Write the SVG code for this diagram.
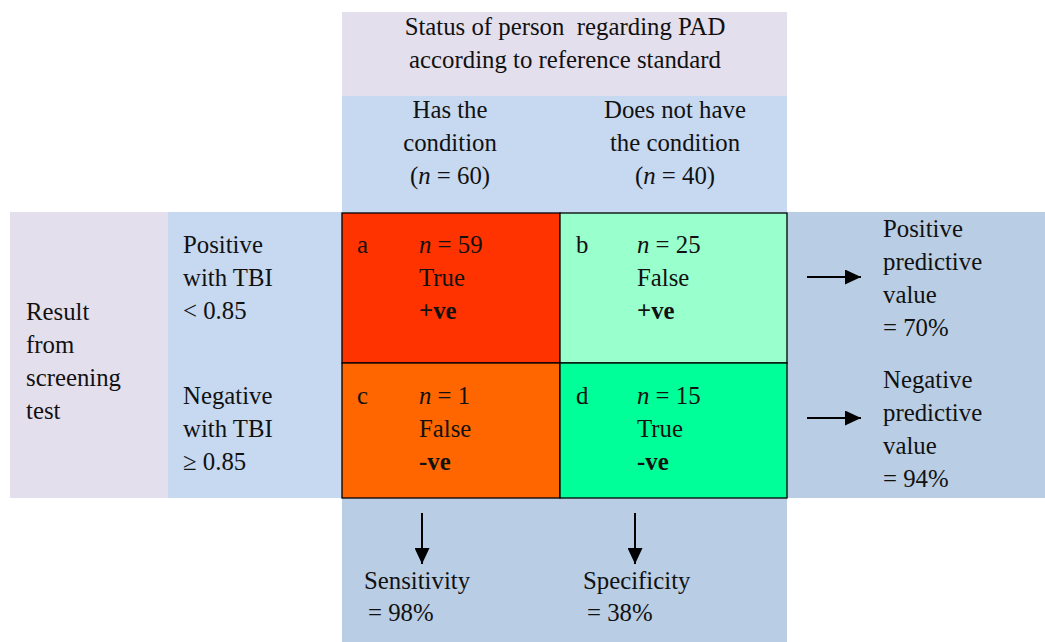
<svg xmlns="http://www.w3.org/2000/svg" width="1045" height="642" viewBox="0 0 1045 642">
<style>
text{font-family:'Liberation Serif','Times New Roman',serif;font-size:24.8px;fill:#111}
.c{text-anchor:middle}
.b{font-weight:bold}
.i{font-style:italic}
.lav{fill:#E4DFEC}
.lb{fill:#C6D9F1}
.db{fill:#B9CDE4}
.cell{stroke:#000;stroke-width:1.3}
.arr{stroke:#000;stroke-width:2;fill:none;marker-end:url(#ah)}
</style>
<defs>
<marker id="ah" viewBox="0 0 16 15" refX="16" refY="7.5" markerWidth="16" markerHeight="15" markerUnits="userSpaceOnUse" orient="auto"><path d="M0,0 L16,7.5 L0,15 Z" fill="#000"/></marker>
</defs>
<rect width="1045" height="642" fill="#fff"/>
<g id="header">
<rect class="lav" x="342" y="12" width="445" height="84"/>
<text class="c" x="565" y="35" xml:space="preserve">Status of person  regarding PAD</text>
<text class="c" x="565" y="68">according to reference standard</text>
</g>
<g id="col-has">
<rect class="lb" x="342" y="96" width="218" height="117"/>
<text class="c" x="450" y="118">Has the</text>
<text class="c" x="450" y="151">condition</text>
<text class="c" x="450" y="184">(<tspan class="i">n</tspan> = 60)</text>
</g>
<g id="col-not">
<rect class="lb" x="560" y="96" width="227" height="117"/>
<text class="c" x="675" y="118">Does not have</text>
<text class="c" x="675" y="151">the condition</text>
<text class="c" x="675" y="184">(<tspan class="i">n</tspan> = 40)</text>
</g>
<g id="row-title">
<rect class="lav" x="10" y="212" width="158" height="286"/>
<text x="26" y="320">Result</text>
<text x="26" y="353">from</text>
<text x="26" y="386">screening</text>
<text x="26" y="419">test</text>
</g>
<g id="row-pos">
<rect class="lb" x="168" y="212" width="174" height="151"/>
<text x="183" y="253">Positive</text>
<text x="183" y="286">with TBI</text>
<text x="183" y="319">&lt; 0.85</text>
</g>
<g id="row-neg">
<rect class="lb" x="168" y="363" width="174" height="135"/>
<text x="183" y="404">Negative</text>
<text x="183" y="437">with TBI</text>
<text x="183" y="470">≥ 0.85</text>
</g>
<g id="right-panel">
<rect class="db" x="787" y="212" width="258" height="286"/>
</g>
<g id="bottom-panel">
<rect class="db" x="342" y="498" width="445" height="144"/>
</g>
<g id="cell-a">
<rect class="cell" x="342" y="213" width="218" height="150" fill="#FF3300"/>
<text x="357" y="253">a</text>
<text x="419" y="253"><tspan class="i">n</tspan> = 59</text>
<text x="419" y="286">True</text>
<text class="b" x="419" y="319">+ve</text>
</g>
<g id="cell-b">
<rect class="cell" x="560" y="213" width="227" height="150" fill="#99FFCC"/>
<text x="576" y="253">b</text>
<text x="637" y="253"><tspan class="i">n</tspan> = 25</text>
<text x="637" y="286">False</text>
<text class="b" x="637" y="319">+ve</text>
</g>
<g id="cell-c">
<rect class="cell" x="342" y="363" width="218" height="135" fill="#FF6600"/>
<text x="357" y="404">c</text>
<text x="419" y="404"><tspan class="i">n</tspan> = 1</text>
<text x="419" y="437">False</text>
<text class="b" x="419" y="470">-ve</text>
</g>
<g id="cell-d">
<rect class="cell" x="560" y="363" width="227" height="135" fill="#00FF99"/>
<text x="576" y="404">d</text>
<text x="637" y="404"><tspan class="i">n</tspan> = 15</text>
<text x="637" y="437">True</text>
<text class="b" x="637" y="470">-ve</text>
</g>
<g id="ppv">
<text x="883" y="237">Positive</text>
<text x="883" y="270">predictive</text>
<text x="883" y="303">value</text>
<text x="883" y="336">= 70%</text>
</g>
<g id="npv">
<text x="883" y="388">Negative</text>
<text x="883" y="421">predictive</text>
<text x="883" y="454">value</text>
<text x="883" y="487">= 94%</text>
</g>
<g id="sens">
<text x="364" y="589">Sensitivity</text>
<text x="368" y="621">= 98%</text>
</g>
<g id="spec">
<text x="583" y="589">Specificity</text>
<text x="587" y="621">= 38%</text>
</g>
<g id="connectors">
<line class="arr" x1="807" y1="277" x2="861" y2="277"/>
<line class="arr" x1="807" y1="418" x2="861" y2="418"/>
<line class="arr" x1="422" y1="513" x2="422" y2="564"/>
<line class="arr" x1="635" y1="513" x2="635" y2="564"/>
</g>
</svg>
